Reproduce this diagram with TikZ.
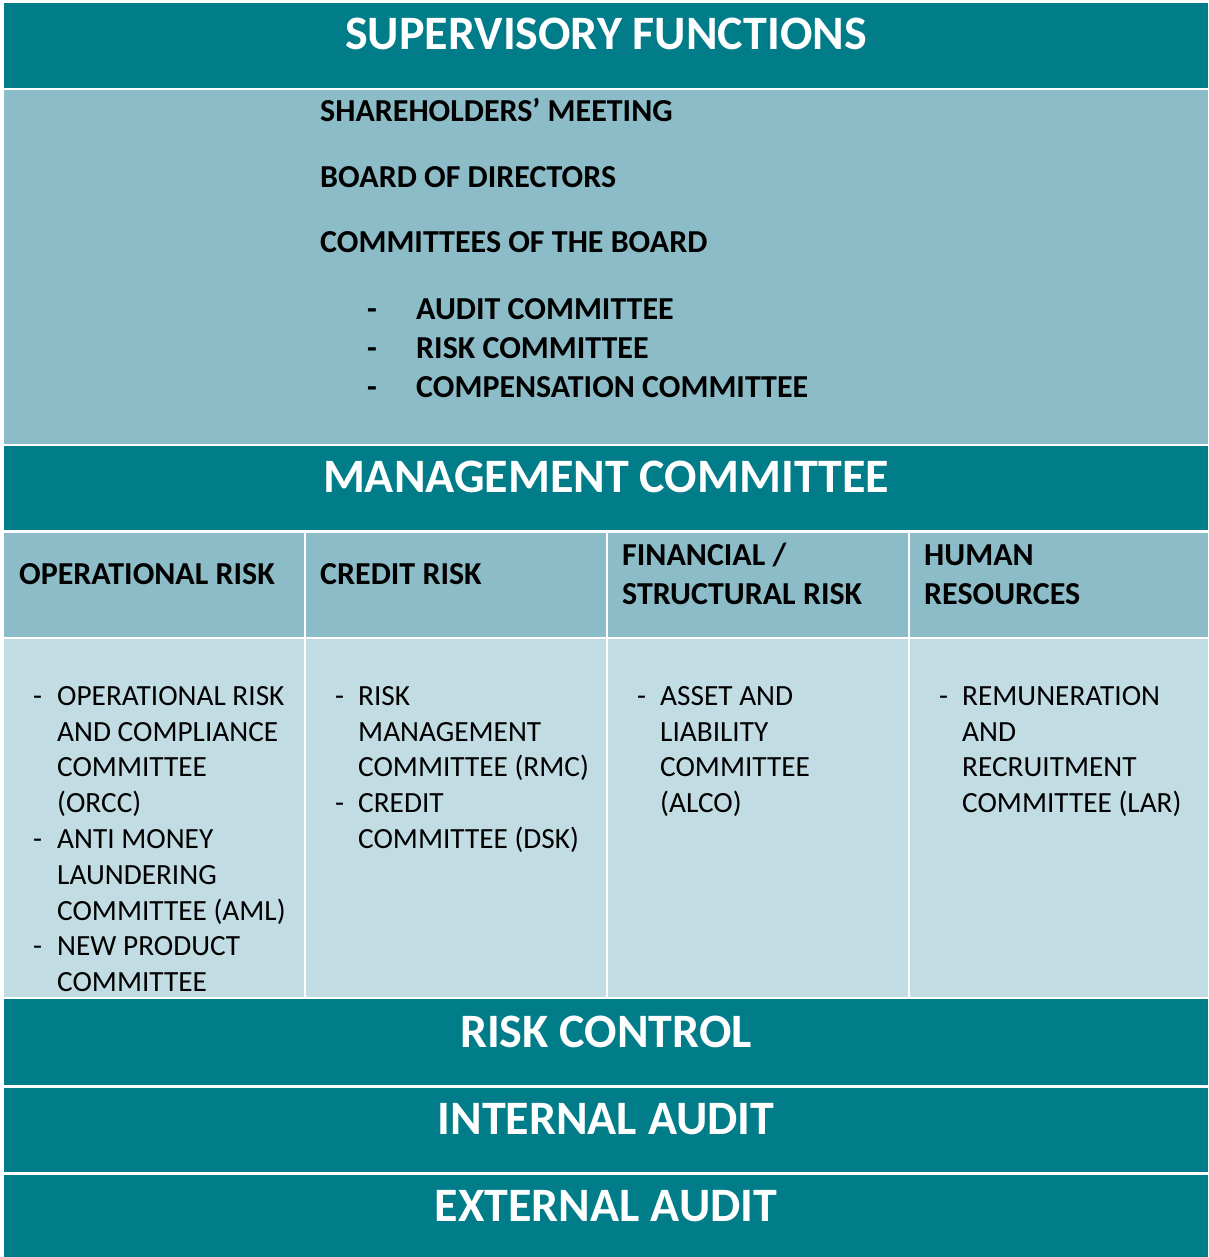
\documentclass[tikz,border=0pt]{standalone}
\usepackage{fontspec}
\setmainfont{Carlito}
\definecolor{tdark}{RGB}{1,124,137}
\definecolor{tmid}{RGB}{139,188,199}
\definecolor{tlight}{RGB}{193,220,226}
\tikzset{
  cell/.style={anchor=north west, inner sep=0, outer sep=0, draw=none},
  title/.style={anchor=base, inner sep=0, text=white, font=\fontsize{48}{58}\selectfont\bfseries},
  boldtxt/.style={anchor=base west, inner sep=0, text=black, font=\fontsize{32}{39}\selectfont\bfseries},
  regtxt/.style={anchor=base west, inner sep=0, text=black, font=\fontsize{29.3}{35.8}\selectfont},
}
\begin{document}
\begin{tikzpicture}[x=1pt,y=-1pt]
\fill[white] (0,0) rectangle (1208,1257);
\useasboundingbox (0,0) rectangle (1208,1257);
% rows
\node[cell, fill=tdark, minimum width=1204pt, minimum height=85pt] (r1) at (4,3) {};
\node[cell, fill=tmid, minimum width=1204pt, minimum height=354pt] (r2) at (4,90) {};
\node[cell, fill=tdark, minimum width=1204pt, minimum height=84pt] (r3) at (4,446) {};
\node[cell, fill=tmid, minimum width=300pt, minimum height=104pt] (h1) at (4,533) {};
\node[cell, fill=tmid, minimum width=300pt, minimum height=104pt] (h2) at (306,533) {};
\node[cell, fill=tmid, minimum width=300pt, minimum height=104pt] (h3) at (608,533) {};
\node[cell, fill=tmid, minimum width=298pt, minimum height=104pt] (h4) at (910,533) {};
\node[cell, fill=tlight, minimum width=300pt, minimum height=358pt] (b1) at (4,639) {};
\node[cell, fill=tlight, minimum width=300pt, minimum height=358pt] (b2) at (306,639) {};
\node[cell, fill=tlight, minimum width=300pt, minimum height=358pt] (b3) at (608,639) {};
\node[cell, fill=tlight, minimum width=298pt, minimum height=358pt] (b4) at (910,639) {};
\node[cell, fill=tdark, minimum width=1204pt, minimum height=86pt] (r6) at (4,999) {};
\node[cell, fill=tdark, minimum width=1204pt, minimum height=84pt] (r7) at (4,1088) {};
\node[cell, fill=tdark, minimum width=1204pt, minimum height=82pt] (r8) at (4,1175) {};
% titles
\node[title] (t1) at (606,50) {SUPERVISORY FUNCTIONS};
\node[title] (t3) at (606,492) {MANAGEMENT COMMITTEE};
\node[title] (t6) at (606,1047) {RISK CONTROL};
\node[title] (t7) at (606,1134) {INTERNAL AUDIT};
\node[title] (t8) at (606,1221) {EXTERNAL AUDIT};
% supervisory content
\node[boldtxt] (s1) at (320,122) {SHAREHOLDERS’ MEETING};
\node[boldtxt] (s2) at (320,188) {BOARD OF DIRECTORS};
\node[boldtxt] (s3) at (320,253) {COMMITTEES OF THE BOARD};
\node[boldtxt] (d1) at (367,319) {-};
\node[boldtxt] (d2) at (367,358) {-};
\node[boldtxt] (d3) at (367,397) {-};
\node[boldtxt] (s4) at (416,319) {AUDIT COMMITTEE};
\node[boldtxt] (s5) at (416,358) {RISK COMMITTEE};
\node[boldtxt] (s6) at (416,397) {COMPENSATION COMMITTEE};
% headers
\node[boldtxt] (hh1) at (19,584) {OPERATIONAL RISK};
\node[boldtxt] (hh2) at (320,584) {CREDIT RISK};
\node[boldtxt] (hh3a) at (622,565) {FINANCIAL /};
\node[boldtxt] (hh3b) at (622,604) {STRUCTURAL RISK};
\node[boldtxt] (hh4a) at (924,565) {HUMAN};
\node[boldtxt] (hh4b) at (924,604) {RESOURCES};
% column 1
\node[regtxt] (c1d1) at (33,705) {-};
\node[regtxt] (c1l1) at (57,705) {OPERATIONAL RISK};
\node[regtxt] (c1l2) at (57,741) {AND COMPLIANCE};
\node[regtxt] (c1l3) at (57,776) {COMMITTEE};
\node[regtxt] (c1l4) at (57,812) {(ORCC)};
\node[regtxt] (c1d2) at (33,848) {-};
\node[regtxt] (c1l5) at (57,848) {ANTI MONEY};
\node[regtxt] (c1l6) at (57,884) {LAUNDERING};
\node[regtxt] (c1l7) at (57,920) {COMMITTEE (AML)};
\node[regtxt] (c1d3) at (33,955) {-};
\node[regtxt] (c1l8) at (57,955) {NEW PRODUCT};
\node[regtxt] (c1l9) at (57,991) {COMMITTEE};
% column 2
\node[regtxt] (c2d1) at (335,705) {-};
\node[regtxt] (c2l1) at (358,705) {RISK};
\node[regtxt] (c2l2) at (358,741) {MANAGEMENT};
\node[regtxt] (c2l3) at (358,776) {COMMITTEE (RMC)};
\node[regtxt] (c2d2) at (335,812) {-};
\node[regtxt] (c2l4) at (358,812) {CREDIT};
\node[regtxt] (c2l5) at (358,848) {COMMITTEE (DSK)};
% column 3
\node[regtxt] (c3d1) at (637,705) {-};
\node[regtxt] (c3l1) at (660,705) {ASSET AND};
\node[regtxt] (c3l2) at (660,741) {LIABILITY};
\node[regtxt] (c3l3) at (660,776) {COMMITTEE};
\node[regtxt] (c3l4) at (660,812) {(ALCO)};
% column 4
\node[regtxt] (c4d1) at (939,705) {-};
\node[regtxt] (c4l1) at (962,705) {REMUNERATION};
\node[regtxt] (c4l2) at (962,741) {AND};
\node[regtxt] (c4l3) at (962,776) {RECRUITMENT};
\node[regtxt] (c4l4) at (962,812) {COMMITTEE (LAR)};
\end{tikzpicture}
\end{document}
